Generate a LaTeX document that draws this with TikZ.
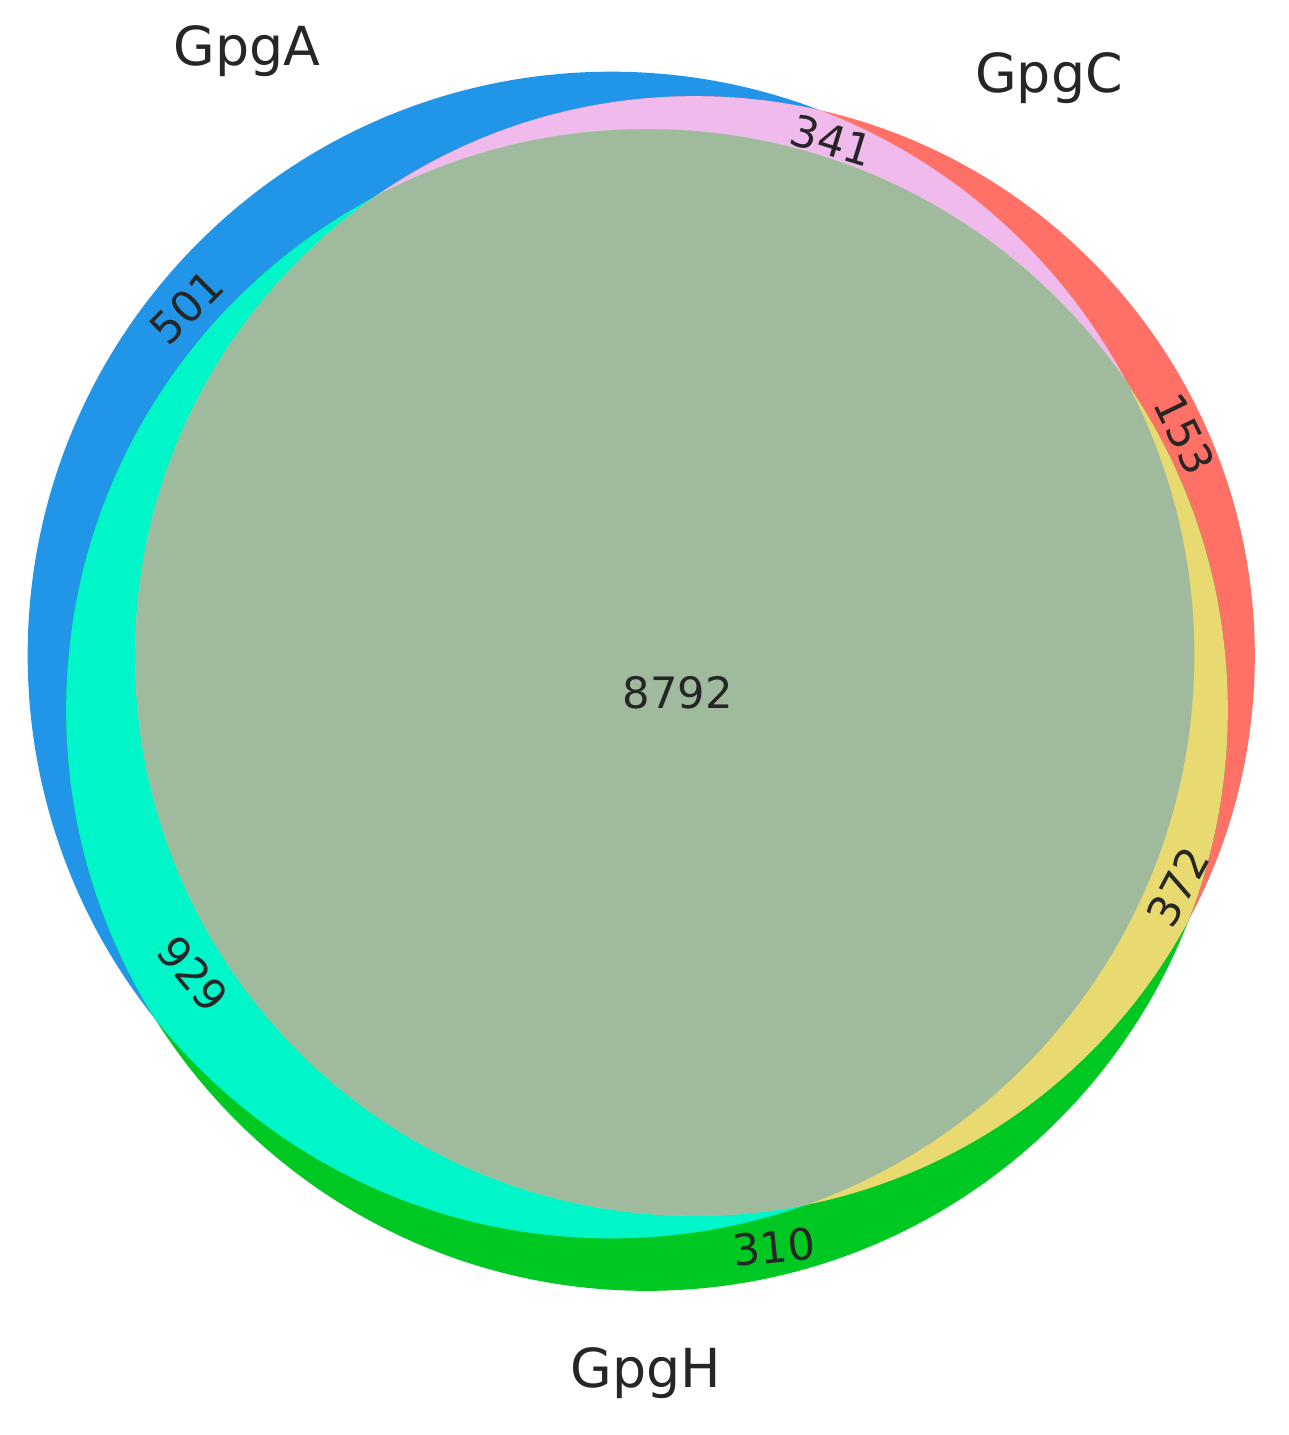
\documentclass[tikz,border=0pt]{standalone}
\usepackage{fontspec}
\setmainfont{DejaVu Sans}
\definecolor{cBlue}{RGB}{33,150,232}
\definecolor{cRed}{RGB}{255,112,102}
\definecolor{cGreen}{RGB}{0,200,34}
\definecolor{cPink}{RGB}{240,186,236}
\definecolor{cCyan}{RGB}{0,245,200}
\definecolor{cYellow}{RGB}{232,218,112}
\definecolor{cGray}{RGB}{160,186,158}
\begin{document}
\begin{tikzpicture}[x=0.01cm,y=-0.01cm,
  setlabel/.style={font=\fontsize{15.3}{18}\selectfont, text=black!85, inner sep=0pt},
  num/.style={font=\fontsize{12.3}{14}\selectfont, text=black!85, inner sep=0pt}]
\useasboundingbox (0,0) rectangle (1289,1435);
\def\cA{(611,655) circle[radius=5.83cm]}
\def\cC{(695,656) circle[radius=5.595cm]}
\def\cH{(647,710) circle[radius=5.805cm]}
% single sets
\fill[cBlue] \cA;
\fill[cRed] \cC;
\fill[cGreen] \cH;
% pairwise
\begin{scope}\clip \cA; \fill[cPink] \cC; \end{scope}
\begin{scope}\clip \cA; \fill[cCyan] \cH; \end{scope}
\begin{scope}\clip \cC; \fill[cYellow] \cH; \end{scope}
% triple
\begin{scope}\clip \cA; \clip \cC; \fill[cGray] \cH; \end{scope}
% set labels
\node[setlabel] (lA) at (247,51) {GpgA};
\node[setlabel] (lC) at (1049,78) {GpgC};
\node[setlabel] (lH) at (646,1373) {GpgH};
% region counts
\node[num, rotate=45] (n501) at (187,307) {501};
\node[num, rotate=-17] (n341) at (832,140) {341};
\node[num, rotate=-64] (n153) at (1185,434) {153};
\node[num, rotate=62] (n372) at (1178,887) {372};
\node[num, rotate=-50] (n929) at (193,974) {929};
\node[num, rotate=6] (n310) at (774,1247) {310};
\node[num] (n8792) at (678,693) {8792};
\end{tikzpicture}
\end{document}
